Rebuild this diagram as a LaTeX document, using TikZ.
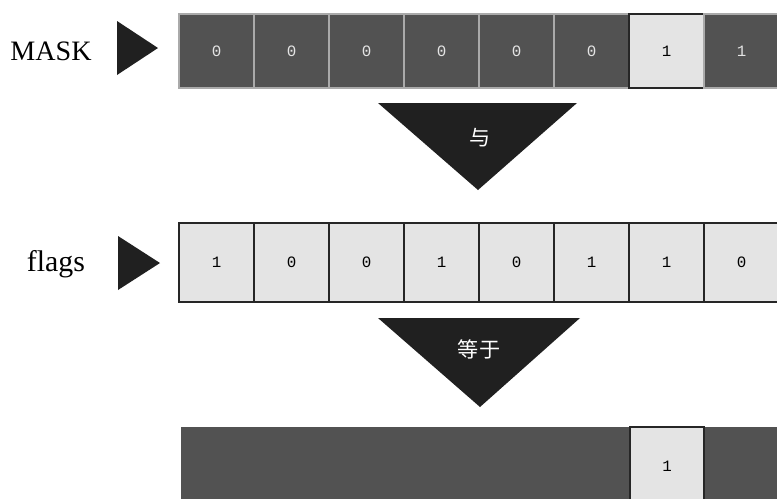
\documentclass[tikz,border=0pt]{standalone}
\usepackage{fontspec}
\setmainfont{Liberation Serif}
\setmonofont{Liberation Mono}
\newfontfamily\cjk{Noto Sans CJK SC}
\usepackage{xcolor}
\usetikzlibrary{positioning}
\definecolor{maskgray}{HTML}{525252}
\definecolor{celllight}{HTML}{E4E4E4}
\definecolor{tridark}{HTML}{202020}
\tikzset{
  cellbox/.style={minimum width=1.5cm, minimum height=1.48cm, inner sep=0pt,
                  line width=0.8pt, font=\ttfamily\small},
  darkcell/.style={cellbox, fill=maskgray, draw=celllight!60!maskgray, text=celllight},
  lightcell/.style={cellbox, fill=celllight, draw=black!85},
  rowlabel/.style={font=\fontsize{16}{18}\selectfont},
  pointer/.style={fill=tridark},
  optext/.style={text=white, font=\cjk\fontsize{12}{14}\selectfont}
}

\begin{document}
\begin{tikzpicture}[x=0.02cm, y=-0.02cm]
    \clip (0,0) rectangle (777,498);
    % MASK row
    \node[rowlabel] (masklabel) at (51,51) {MASK};
    \fill[pointer] (117,21) -- (117,75) -- (158,48) -- cycle;
    \foreach \s/\v [count=\i] in {darkcell/0,darkcell/0,darkcell/0,darkcell/0,
                                   darkcell/0,darkcell/0,lightcell/1,darkcell/1}
      \node[\s] (m\i) at ({141.5+75*\i},51) {\v};
    \fill[pointer] (378,103) -- (577,103) -- (478,190) -- cycle;
    \node[optext] (andop) at (480,138) {与};
    % flags row
    \node[rowlabel, font=\fontsize{17}{19}\selectfont] (flagslabel) at (56,264) {flags};
    \fill[pointer] (118,236) -- (118,290) -- (160,263) -- cycle;
    \foreach \v [count=\i] in {1,0,0,1,0,1,1,0}
      \node[lightcell, minimum height=1.58cm] (f\i) at ({141.5+75*\i},262.5) {\v};
    \fill[pointer] (378,318) -- (580,318) -- (480,407) -- cycle;
    \node[optext] (eqop) at (479,349) {等于};
    % result row
    \node[fill=maskgray, minimum width=11.92cm, minimum height=1.56cm, inner sep=0pt]
      (resbar) at (479,466) {};
    \node[lightcell, minimum width=1.48cm, minimum height=1.56cm] (r7) at (667,466) {1};
\end{tikzpicture}
\end{document}
